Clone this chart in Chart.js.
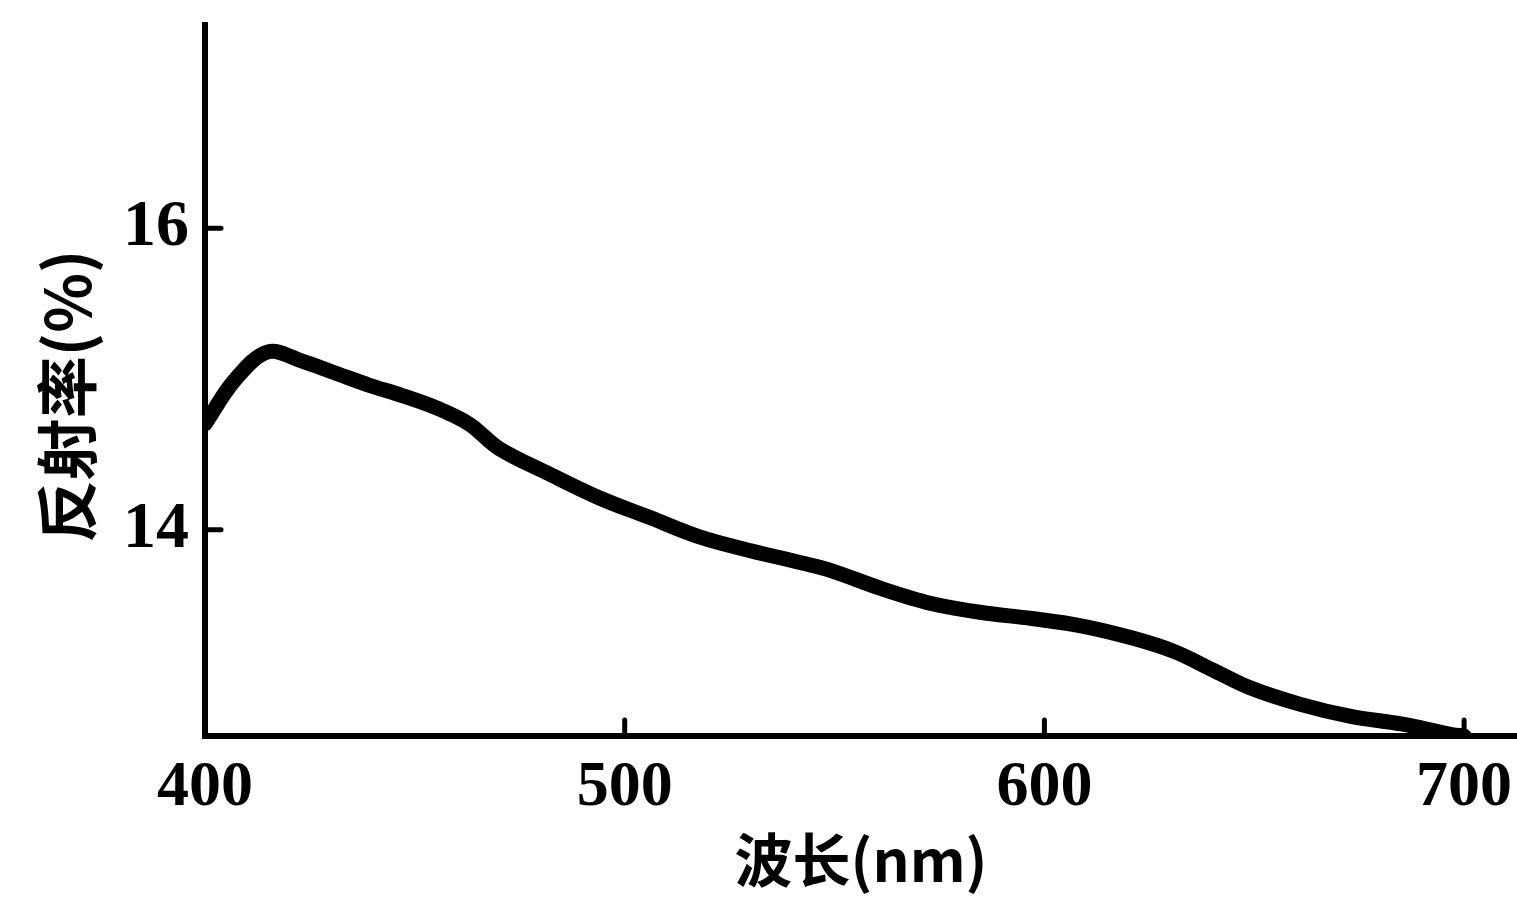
<!DOCTYPE html>
<html>
<head>
<meta charset="utf-8">
<script src="https://cdn.jsdelivr.net/npm/chart.js@4/dist/chart.umd.min.js"></script>
<style>
  html, body { margin: 0; padding: 0; background: #fff; }
  #wrap { width: 1517px; height: 897px; position: relative; }
</style>
</head>
<body>
<div id="wrap"><canvas id="c" width="1517" height="897"></canvas></div>
<script>
// Data
const wavelengths = [400, 407, 415, 423, 431, 439, 447, 455, 463, 470, 482, 494, 506, 518, 530, 542, 549, 561, 573, 585, 597, 609, 621, 631, 640, 649, 661, 673, 685, 697, 700];
const reflectance = [14.70, 14.99, 15.18, 15.12, 15.04, 14.96, 14.89, 14.81, 14.70, 14.54, 14.37, 14.21, 14.08, 13.95, 13.86, 13.78, 13.73, 13.61, 13.51, 13.45, 13.41, 13.36, 13.28, 13.19, 13.07, 12.95, 12.84, 12.76, 12.71, 12.64, 12.63];
const xTickValues = [400, 500, 600, 700];
const yTickValues = [14, 16];
const xTitle = '波长(nm)';
const yTitle = '反射率(%)\u2002';

const points = wavelengths.map((w, i) => ({ x: w, y: reflectance[i] }));

const innerTicks = {
  id: 'innerTicks',
  afterDraw(chart) {
    const ctx = chart.ctx;
    const xs = chart.scales.x, ys = chart.scales.y;
    ctx.save();
    ctx.strokeStyle = '#000';
    ctx.lineWidth = 5;
    ctx.lineCap = 'round';
    xs.ticks.forEach(t => {
      const px = xs.getPixelForValue(t.value);
      ctx.beginPath();
      ctx.moveTo(px, ys.bottom);
      ctx.lineTo(px, ys.bottom - 16);
      ctx.stroke();
    });
    ys.ticks.forEach(t => {
      const py = ys.getPixelForValue(t.value);
      ctx.beginPath();
      ctx.moveTo(xs.left, py);
      ctx.lineTo(xs.left + 16, py);
      ctx.stroke();
    });
    ctx.restore();
  }
};

new Chart(document.getElementById('c'), {
  type: 'line',
  data: {
    datasets: [{
      data: points,
      borderColor: '#000',
      borderWidth: 15,
      pointRadius: 0,
      tension: 0.35,
      borderCapStyle: 'round',
      borderJoinStyle: 'round',
      fill: false
    }]
  },
  options: {
    responsive: false,
    animation: false,
    layout: { padding: { top: 0, right: 0, left: 0, bottom: 0 } },
    plugins: { legend: { display: false }, tooltip: { enabled: false } },
    scales: {
      x: {
        type: 'linear',
        min: 400,
        max: 712.6,
        afterBuildTicks: s => { s.ticks = xTickValues.map(v => ({ value: v })); },
        afterFit: s => { s.height = 161; s.paddingRight = 0; },
        grid: { display: true, drawOnChartArea: false, drawTicks: false, color: 'rgba(0,0,0,0)' },
        border: { display: true, color: '#000', width: 6 },
        ticks: {
          color: '#000',
          padding: 14,
          maxRotation: 0,
          autoSkip: false,
          font: { family: "'Liberation Serif', 'DejaVu Serif', serif", size: 64, weight: 'bold' }
        },
        title: {
          display: true,
          text: xTitle,
          color: '#000',
          padding: { top: 0, bottom: 2 },
          font: { family: "'Noto Sans CJK SC', sans-serif", size: 58, weight: 'bold', lineHeight: 1.2 }
        }
      },
      y: {
        type: 'linear',
        min: 12.63,
        max: 17.35,
        afterBuildTicks: s => { s.ticks = yTickValues.map(v => ({ value: v })); },
        afterFit: s => { s.width = 205; s.paddingTop = 25; s.paddingBottom = 0; },
        grid: { display: true, drawOnChartArea: false, drawTicks: false, color: 'rgba(0,0,0,0)' },
        border: { display: true, color: '#000', width: 6 },
        ticks: {
          color: '#000',
          padding: 16,
          autoSkip: false,
          font: { family: "'Liberation Serif', 'DejaVu Serif', serif", size: 66, weight: 'bold' }
        },
        title: {
          display: true,
          text: yTitle,
          color: '#000',
          padding: { top: 36, bottom: 0 },
          font: { family: "'Noto Sans CJK SC', sans-serif", size: 62, weight: 'bold', lineHeight: 1.0 }
        }
      }
    }
  },
  plugins: [innerTicks]
});
</script>
</body>
</html>
